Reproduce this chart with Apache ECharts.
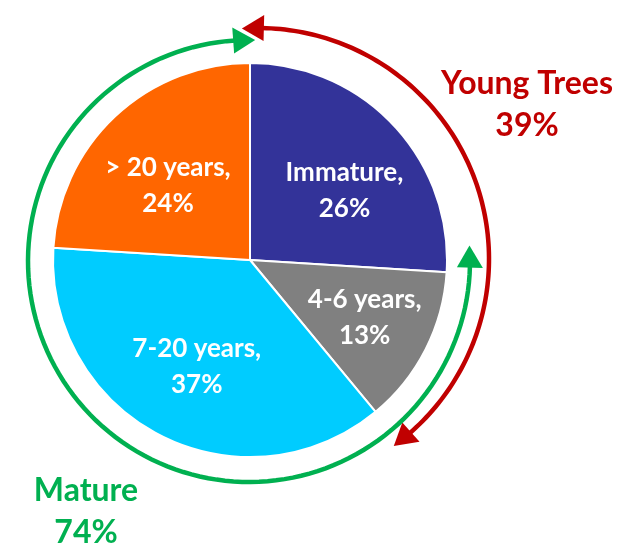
<!DOCTYPE html>
<html>
<head>
<meta charset="utf-8">
<script src="https://cdn.jsdelivr.net/npm/echarts@6/dist/echarts.min.js"></script>
<style>
  html, body { margin: 0; padding: 0; background: #fff; }
  #chart { width: 619px; height: 544px; }
</style>
</head>
<body>
<div id="chart"></div>
<script>
    // slices, clockwise from 12 o'clock
    var sliceNames = ['Immature', '4-6 years', '7-20 years', '> 20 years'];
    var sliceValues = [26, 13, 37, 24];
    var sliceColors = ['#333399', '#808080', '#00CCFF', '#FF6600'];

    // groups drawn as arrows round the pie (indexes into the slices)
    var groupNames = ['Young Trees', 'Mature'];
    var groupValues = [39, 74];
    var groupMembers = [[0, 1], [1, 2, 3]];
    var groupColors = ['#C00000', '#00B050'];

    var pieCx = 250, pieCy = 260, pieR = 197;

    // start angle of every slice, degrees clockwise from top
    var total = sliceValues.reduce(function (a, b) { return a + b; }, 0);
    var sliceStart = [];
    var acc = 0;
    for (var i = 0; i < sliceValues.length; i++) {
        sliceStart.push(acc / total * 360);
        acc += sliceValues[i];
    }
    function sliceEnd(i) { return sliceStart[i] + sliceValues[i] / total * 360; }

    function pt(cx, cy, r, deg) {
        var a = deg * Math.PI / 180;
        return [cx + r * Math.sin(a), cy - r * Math.cos(a)];
    }

    // arc with an arrow head on both ends
    function arrowArc(cx, cy, r, a0, a1, color) {
        var len = 22, hw = 13;
        var da = len / r * 180 / Math.PI;
        var s = a0 + da, e = a1 - da;
        var pts = [];
        for (var k = 0; k <= 120; k++) {
            pts.push(pt(cx, cy, r, s - 0.5 + (e - s + 1) * k / 120));
        }
        function head(tip, base) {
            return {
                type: 'polygon',
                shape: {points: [pt(cx, cy, r, tip), pt(cx, cy, r + hw, base), pt(cx, cy, r - hw, base)]},
                style: {fill: color}
            };
        }
        return [
            {type: 'polyline', shape: {points: pts}, style: {stroke: color, lineWidth: 4.5, fill: null}},
            head(a0, s),
            head(a1, e)
        ];
    }

    // where each group's arc sits and how far the tips run past the slices
    var arcGeom = [
        {cx: 258, cy: 259, r: 231, pad: [4, 3.6]},
        {cx: 249, cy: 261, r: 221, pad: [7.6, 1.6]}
    ];

    var graphics = [];
    groupNames.forEach(function (name, g) {
        var m = groupMembers[g];
        var a0 = sliceStart[m[0]] - arcGeom[g].pad[0];
        var a1 = sliceEnd(m[m.length - 1]) + arcGeom[g].pad[1];
        graphics = graphics.concat(arrowArc(arcGeom[g].cx, arcGeom[g].cy, arcGeom[g].r, a0, a1, groupColors[g]));
    });

    var groupLabelPos = [[527, 105], [86, 512]];
    groupNames.forEach(function (name, g) {
        graphics.push({
            type: 'text',
            x: groupLabelPos[g][0],
            y: groupLabelPos[g][1],
            style: {
                text: name + '\n' + groupValues[g] + '%',
                fill: groupColors[g],
                font: 'bold 32px Lato',
                lineHeight: 42,
                align: 'center',
                verticalAlign: 'middle',
                textAlign: 'center',
                textVerticalAlign: 'middle'
            }
        });
    });

    var chart = echarts.init(document.getElementById('chart'));
    chart.setOption({
        animation: false,
        series: [{
            type: 'pie',
            center: [pieCx, pieCy],
            radius: pieR,
            startAngle: 90,
            clockwise: true,
            silent: true,
            itemStyle: {borderColor: '#fff', borderWidth: 2},
            label: {
                position: 'inside',
                formatter: '{b},\n{c}%',
                color: '#fff',
                fontFamily: 'Lato',
                fontWeight: 'bold',
                fontSize: 26,
                lineHeight: 36
            },
            labelLine: {show: false},
            // spread the labels out a little, more sideways than up/down
            labelLayout: function (p) {
                var r = p.labelRect;
                var x = r.x + r.width / 2, y = r.y + r.height / 2;
                return {
                    x: 235 + (x - 235) * 1.23,
                    y: 190 + (y - 190) * 1.1,
                    align: 'center',
                    verticalAlign: 'middle'
                };
            },
            data: sliceNames.map(function (n, i) {
                return {name: n, value: sliceValues[i], itemStyle: {color: sliceColors[i]}};
            })
        }],
        graphic: graphics
    });
</script>
</body>
</html>
